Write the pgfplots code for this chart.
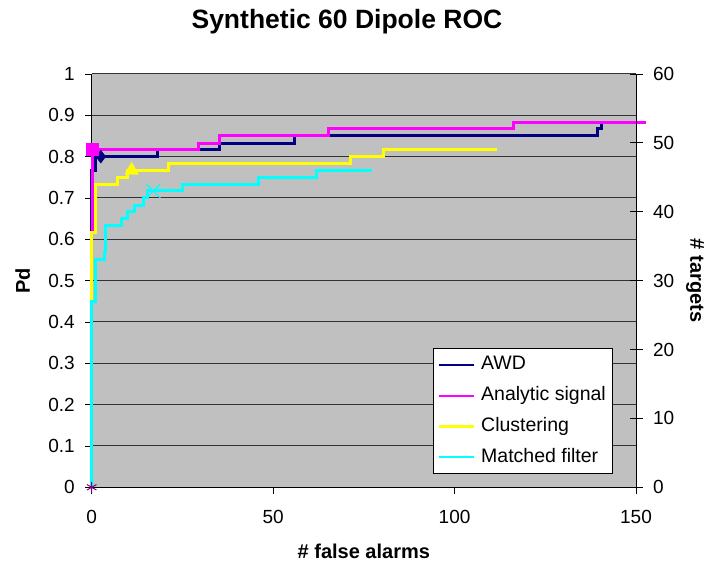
\documentclass[border=0pt]{standalone}
\usepackage{fontspec}
\setmainfont{Liberation Sans}
\usepackage{pgfplots}
\pgfplotsset{compat=1.18}
\usetikzlibrary{plotmarks}
\definecolor{awd}{RGB}{0,0,128}
\definecolor{anasig}{RGB}{255,0,255}
\definecolor{clust}{RGB}{255,255,0}
\definecolor{mfilt}{RGB}{0,255,255}
\definecolor{plotgray}{RGB}{192,192,192}
\definecolor{purp}{RGB}{128,0,128}
\begin{document}
\begin{tikzpicture}
\path[use as bounding box] (0,0) rectangle (706pt,564pt);
\begin{axis}[
  at={(91.7pt,76.7pt)}, anchor=south west,
  width=544.3pt, height=413.3pt, scale only axis,
  xmin=0, xmax=150, ymin=0, ymax=1,
  clip=false,
  axis background/.style={fill=plotgray},
  axis x line*=bottom, axis y line*=left,
  axis line style={black, line width=0.9pt},
  xtick={0,50,100,150},
  xticklabels={0,50,100,150},
  ytick={0,0.1,0.2,0.3,0.4,0.5,0.6,0.7,0.8,0.9,1},
  yticklabels={0,0.1,0.2,0.3,0.4,0.5,0.6,0.7,0.8,0.9,1},
  tick align=outside, major tick length=6.5pt,
  tick style={black, line width=0.9pt},
  ymajorgrids, grid style={black!80, line width=1pt},
  ticklabel style={font=\fontsize{19}{22}\selectfont},
  xticklabel style={anchor=center, yshift=-23pt},
  yticklabel style={anchor=east, xshift=-7pt},
  xlabel={\# false alarms},
  xlabel style={font=\bfseries\fontsize{20}{24}\selectfont, at={(rel axis cs:0.5,0)}, anchor=center, yshift=-64pt},
  ylabel={Pd},
  ylabel style={font=\bfseries\fontsize{20}{24}\selectfont, at={(rel axis cs:0,0.5)}, anchor=center, yshift=69pt},
  legend style={at={(rel axis cs:0.6276,0.3363)}, anchor=north west,
    draw=black, fill=white, line width=0.8pt,
    font=\fontsize{19.5}{23}\selectfont,
    inner xsep=4pt, inner ysep=1pt, row sep=0pt, column sep=3pt,
    nodes={inner ysep=5.6pt, inner xsep=3pt, text height=14.6pt, text depth=4.9pt}},
  legend cell align=left,
  legend image code/.code={\draw[#1, line width=2.5pt] (0pt,0pt) -- (35pt,0pt);},
]
\addplot[awd, line width=3pt] coordinates {
(0,0) (0,0.767) (1,0.767) (1,0.8) (18,0.8) (18,0.817) (35.3,0.817) (35.3,0.833)
(56,0.833) (56,0.85) (139.5,0.85) (139.5,0.867) (140.5,0.867) (140.5,0.883) (150,0.883)};
\addlegendentry{AWD}
\addplot[anasig, line width=3pt] coordinates {
(0,0) (0,0.617) (0.3,0.617) (0.3,0.817) (29.3,0.817) (29.3,0.833) (35.1,0.833) (35.1,0.85)
(65.2,0.85) (65.2,0.867) (116.2,0.867) (116.2,0.883) (152.7,0.883)};
\addlegendentry{Analytic signal}
\addplot[clust, line width=3pt] coordinates {
(0,0) (0,0.617) (1.1,0.617) (1.1,0.733) (7.1,0.733) (7.1,0.75) (9.8,0.75) (9.8,0.767)
(21.1,0.767) (21.1,0.783) (71.2,0.783) (71.2,0.8) (80.4,0.8) (80.4,0.817) (111.6,0.817)};
\addlegendentry{Clustering}
\addplot[mfilt, line width=3pt] coordinates {
(0,0) (0,0.45) (1.1,0.45) (1.1,0.55) (3.4,0.55) (3.4,0.567) (3.9,0.567) (3.9,0.633)
(8.2,0.633) (8.2,0.65) (9.8,0.65) (9.8,0.667) (11.9,0.667) (11.9,0.683) (14.2,0.683)
(14.2,0.7) (15.5,0.7) (15.5,0.717) (25,0.717) (25,0.733) (46,0.733) (46,0.75)
(62,0.75) (62,0.767) (77.2,0.767)};
\addlegendentry{Matched filter}
\addplot[forget plot, only marks, mark=diamond*, mark size=6.5pt, color=awd] coordinates {(2.5,0.8)};
\addplot[forget plot, only marks, mark=square*, mark size=6pt, color=anasig] coordinates {(0,0.817)};
\addplot[forget plot, only marks, mark=triangle*, mark size=8pt, color=clust] coordinates {(11,0.767)};
\addplot[forget plot, only marks, mark=x, mark size=10pt, color=mfilt, mark options={line width=1pt}] coordinates {(17,0.717)};
\addplot[forget plot, only marks, mark=asterisk, mark size=5.5pt, color=purp, mark options={line width=1pt}] coordinates {(0,0)};
\end{axis}
\begin{axis}[
  at={(91.7pt,76.7pt)}, anchor=south west,
  width=544.3pt, height=413.3pt, scale only axis,
  xmin=0, xmax=150, ymin=0, ymax=60,
  axis x line=none, axis y line*=right,
  axis line style={black, line width=0.9pt},
  ytick={0,10,20,30,40,50,60},
  yticklabels={0,10,20,30,40,50,60},
  tick align=center, major tick length=13pt,
  tick style={black, line width=0.9pt},
  ticklabel style={font=\fontsize{19}{22}\selectfont},
  yticklabel style={anchor=west, xshift=7pt},
  ylabel={\# targets},
  ylabel style={font=\bfseries\fontsize{20}{24}\selectfont, at={(rel axis cs:1,0.5)}, anchor=center, rotate=180, yshift=59pt},
  title={Synthetic 60 Dipole ROC},
  title style={font=\bfseries\fontsize{26.5}{30}\selectfont, at={(rel axis cs:0.4689,1)}, anchor=center, yshift=46pt},
]
\end{axis}
\end{tikzpicture}
\end{document}
